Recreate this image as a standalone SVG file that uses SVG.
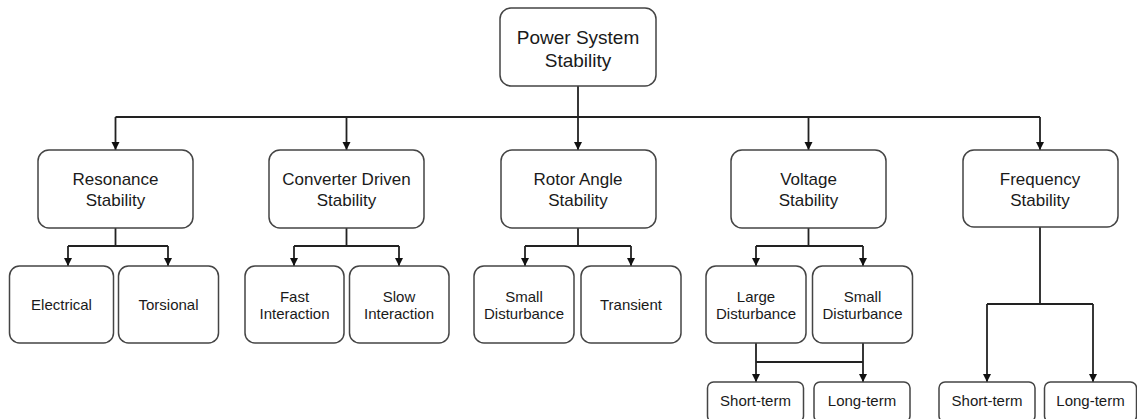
<svg xmlns="http://www.w3.org/2000/svg" width="1137" height="419" viewBox="0 0 1137 419">
  <defs>
    <marker id="arrow" markerUnits="userSpaceOnUse" markerWidth="10" markerHeight="10" viewBox="0 0 10 10" refX="9" refY="5" orient="auto">
      <path d="M1,1 L9,5 L1,9 Z" fill="#111"/>
    </marker>
    <style>
      .box { fill: #ffffff; stroke: #444; stroke-width: 1.5; }
      .lbl { font-family: "Liberation Sans", Arial, sans-serif; fill: #1a1a1a; text-anchor: middle; }
      .l0 { font-size: 19px; }
      .l1 { font-size: 17px; }
      .l2 { font-size: 15px; }
      .wire { fill: none; stroke: #222; stroke-width: 1.8; }
      .arr { marker-end: url(#arrow); }
    </style>
  </defs>
  <rect width="1137" height="419" fill="#ffffff"/>

  <g id="connectors">
    <!-- root trunk and level-one bus -->
    <path class="wire" d="M578,86 V117 M115.5,117 H1040"/>
    <path class="wire arr" d="M115.5,117 V150"/>
    <path class="wire arr" d="M346.5,117 V150"/>
    <path class="wire arr" d="M578,117 V150"/>
    <path class="wire arr" d="M808.5,117 V150"/>
    <path class="wire arr" d="M1040,117 V150"/>

    <!-- resonance -->
    <path class="wire" d="M115.5,228 V246 M68,246 H168"/>
    <path class="wire arr" d="M68,246 V266"/>
    <path class="wire arr" d="M168,246 V266"/>

    <!-- converter driven -->
    <path class="wire" d="M346.5,228 V246 M294,246 H399"/>
    <path class="wire arr" d="M294,246 V266"/>
    <path class="wire arr" d="M399,246 V266"/>

    <!-- rotor angle -->
    <path class="wire" d="M578,228 V246 M525,246 H631"/>
    <path class="wire arr" d="M525,246 V266"/>
    <path class="wire arr" d="M631,246 V266"/>

    <!-- voltage -->
    <path class="wire" d="M808.5,228 V246 M756,246 H863"/>
    <path class="wire arr" d="M756,246 V266"/>
    <path class="wire arr" d="M863,246 V266"/>
    <path class="wire" d="M756,343 V362 M863,343 V362 M756,362 H863"/>
    <path class="wire arr" d="M756,362 V382"/>
    <path class="wire arr" d="M863,362 V382"/>

    <!-- frequency -->
    <path class="wire" d="M1040,227 V304 M987,304 H1093"/>
    <path class="wire arr" d="M987,304 V382"/>
    <path class="wire arr" d="M1093,304 V382"/>
  </g>

  <g id="power-system-stability">
    <rect class="box" x="500" y="8" width="156" height="78" rx="11"/>
    <text class="lbl l0" x="578" y="44">Power System</text>
    <text class="lbl l0" x="578" y="67">Stability</text>
  </g>

  <g id="resonance-stability">
    <rect class="box" x="38" y="150" width="155" height="78" rx="11"/>
    <text class="lbl l1" x="115.5" y="185">Resonance</text>
    <text class="lbl l1" x="115.5" y="206">Stability</text>
  </g>
  <g id="converter-driven-stability">
    <rect class="box" x="269" y="150" width="155" height="78" rx="11"/>
    <text class="lbl l1" x="346.5" y="185">Converter Driven</text>
    <text class="lbl l1" x="346.5" y="206">Stability</text>
  </g>
  <g id="rotor-angle-stability">
    <rect class="box" x="501" y="150" width="155" height="78" rx="11"/>
    <text class="lbl l1" x="578" y="185">Rotor Angle</text>
    <text class="lbl l1" x="578" y="206">Stability</text>
  </g>
  <g id="voltage-stability">
    <rect class="box" x="731" y="150" width="155" height="78" rx="11"/>
    <text class="lbl l1" x="808.5" y="185">Voltage</text>
    <text class="lbl l1" x="808.5" y="206">Stability</text>
  </g>
  <g id="frequency-stability">
    <rect class="box" x="963" y="150" width="155" height="77" rx="11"/>
    <text class="lbl l1" x="1040" y="185">Frequency</text>
    <text class="lbl l1" x="1040" y="206">Stability</text>
  </g>

  <g id="electrical">
    <rect class="box" x="9.5" y="266" width="104" height="77" rx="10"/>
    <text class="lbl l2" x="61.5" y="310">Electrical</text>
  </g>
  <g id="torsional">
    <rect class="box" x="118.5" y="266" width="100" height="77" rx="10"/>
    <text class="lbl l2" x="168.5" y="310">Torsional</text>
  </g>
  <g id="fast-interaction">
    <rect class="box" x="245" y="266" width="99" height="77" rx="10"/>
    <text class="lbl l2" x="294.5" y="301.5">Fast</text>
    <text class="lbl l2" x="294.5" y="319">Interaction</text>
  </g>
  <g id="slow-interaction">
    <rect class="box" x="349.5" y="266" width="99.5" height="77" rx="10"/>
    <text class="lbl l2" x="399" y="301.5">Slow</text>
    <text class="lbl l2" x="399" y="319">Interaction</text>
  </g>
  <g id="rotor-small-disturbance">
    <rect class="box" x="474" y="266" width="100" height="77" rx="10"/>
    <text class="lbl l2" x="524" y="301.5">Small</text>
    <text class="lbl l2" x="524" y="319">Disturbance</text>
  </g>
  <g id="transient">
    <rect class="box" x="581" y="266" width="100" height="77" rx="10"/>
    <text class="lbl l2" x="631" y="310">Transient</text>
  </g>
  <g id="large-disturbance">
    <rect class="box" x="706" y="266" width="100" height="77" rx="10"/>
    <text class="lbl l2" x="756" y="301.5">Large</text>
    <text class="lbl l2" x="756" y="319">Disturbance</text>
  </g>
  <g id="voltage-small-disturbance">
    <rect class="box" x="812.5" y="266" width="100" height="77" rx="10"/>
    <text class="lbl l2" x="862.5" y="301.5">Small</text>
    <text class="lbl l2" x="862.5" y="319">Disturbance</text>
  </g>

  <g id="voltage-short-term">
    <rect class="box" x="707.5" y="382" width="96" height="40" rx="6"/>
    <text class="lbl l2" x="755.5" y="406">Short-term</text>
  </g>
  <g id="voltage-long-term">
    <rect class="box" x="814" y="382" width="96" height="40" rx="6"/>
    <text class="lbl l2" x="862" y="406">Long-term</text>
  </g>
  <g id="frequency-short-term">
    <rect class="box" x="939" y="382" width="96" height="40" rx="6"/>
    <text class="lbl l2" x="987" y="406">Short-term</text>
  </g>
  <g id="frequency-long-term">
    <rect class="box" x="1044.5" y="382" width="92" height="40" rx="6"/>
    <text class="lbl l2" x="1090.5" y="406">Long-term</text>
  </g>
</svg>
